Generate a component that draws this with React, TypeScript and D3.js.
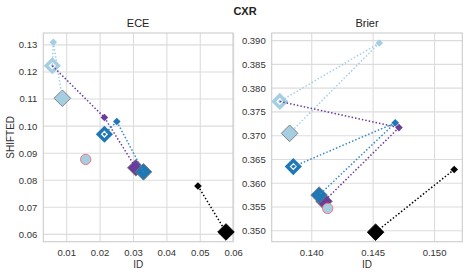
import React from 'react';
import * as d3 from 'd3';

// point keys shared by both panels
const keys = ['lbSmall', 'lbHollow', 'lbBig', 'purpleSmall', 'purpleBig', 'blueSmall', 'blueHollow', 'blueBig', 'blackSmall', 'blackBig', 'circle'];

const eceX = [0.0060, 0.0057, 0.0087, 0.0213, 0.0307, 0.0250, 0.0213, 0.0330, 0.0493, 0.0577, 0.0157];
const eceY = [0.1310, 0.1223, 0.1103, 0.1032, 0.0846, 0.1017, 0.0970, 0.0831, 0.0779, 0.0609, 0.0877];

const brierX = [0.1455, 0.1374, 0.1382, 0.1471, 0.1410, 0.1468, 0.1385, 0.1406, 0.1516, 0.1452, 0.1413];
const brierY = [0.3895, 0.3772, 0.3705, 0.3717, 0.3562, 0.3727, 0.3635, 0.3575, 0.3629, 0.3497, 0.3547];

const links: [string, string][] = [
  ['lbSmall', 'lbHollow'],
  ['lbSmall', 'lbBig'],
  ['lbHollow', 'purpleSmall'],
  ['purpleSmall', 'purpleBig'],
  ['blueSmall', 'blueHollow'],
  ['blueSmall', 'blueBig'],
  ['blackSmall', 'blackBig'],
];

const eceXTicks = [0.01, 0.02, 0.03, 0.04, 0.05, 0.06];
const eceYTicks = [0.06, 0.07, 0.08, 0.09, 0.10, 0.11, 0.12, 0.13];
const brierXTicks = [0.140, 0.145, 0.150];
const brierYTicks = [0.350, 0.355, 0.360, 0.365, 0.370, 0.375, 0.380, 0.385, 0.390];

const colors: Record<string, string> = {
  lb: '#a6cee3',
  purple: '#6a3d9a',
  blue: '#1f78b4',
  black: '#000000',
};

const styleOf = (k: string) => {
  if (k === 'circle') return { kind: 'circle', color: colors.lb };
  const m = k.match(/^(lb|purple|blue|black)(Small|Hollow|Big)$/)!;
  return { kind: m[2].toLowerCase(), color: colors[m[1]] };
};

const font = "'Liberation Sans', Arial, sans-serif";
const diamond = (r: number) => `M0,${-r}L${r},0L0,${r}L${-r},0Z`;

// draw order: big markers, lines, small markers
const bigOrder = ['lbHollow', 'lbBig', 'blueHollow', 'purpleBig', 'blueBig', 'blackBig'];
const smallOrder = ['lbSmall', 'purpleSmall', 'blueSmall', 'blackSmall'];

interface PanelProps {
  title: string;
  xs: number[];
  ys: number[];
  xDomain: [number, number];
  yDomain: [number, number];
  xTicks: number[];
  yTicks: number[];
  xFmt: string;
  yFmt: string;
  left: number;
  right: number;
  showYLabel: boolean;
}

const Panel: React.FC<PanelProps> = ({ title, xs, ys, xDomain, yDomain, xTicks, yTicks, xFmt, yFmt, left, right, showYLabel }) => {
  const top = 33;
  const bottom = 241.7;
  const x = d3.scaleLinear().domain(xDomain).range([left, right]);
  const y = d3.scaleLinear().domain(yDomain).range([bottom, top]);
  const pos = (k: string) => {
    const i = keys.indexOf(k);
    return [x(xs[i]), y(ys[i])];
  };
  const fx = d3.format(xFmt);
  const fy = d3.format(yFmt);

  const marker = (k: string) => {
    const [px, py] = pos(k);
    const s = styleOf(k);
    if (s.kind === 'circle') {
      return <circle key={k} cx={px} cy={py} r={5.2} fill={s.color} stroke="#f07878" strokeWidth={1} />;
    }
    if (s.kind === 'small') {
      return <path key={k} d={diamond(3.8)} transform={`translate(${px},${py})`} fill={s.color} />;
    }
    if (s.kind === 'hollow') {
      return (
        <g key={k} transform={`translate(${px},${py})`}>
          <path d={diamond(8.6)} fill={s.color} />
          <path d={diamond(2.8)} fill={s.color} stroke="#ffffff" strokeWidth={1.2} />
        </g>
      );
    }
    return (
      <path key={k} d={diamond(8.3)} transform={`translate(${px},${py})`} fill={s.color}
        stroke={k === 'blackBig' ? '#000' : '#777777'} strokeWidth={0.9} />
    );
  };

  return (
    <g>
      {xTicks.map(t => (
        <line key={'gx' + t} x1={x(t)} x2={x(t)} y1={top} y2={bottom} stroke="#dcdcdc" strokeWidth={1.1} />
      ))}
      {yTicks.map(t => (
        <line key={'gy' + t} x1={left} x2={right} y1={y(t)} y2={y(t)} stroke="#dcdcdc" strokeWidth={1.1} />
      ))}
      <rect x={left} y={top} width={right - left} height={bottom - top} fill="none" stroke="#cccccc" strokeWidth={1.1} />
      {xTicks.map(t => (
        <text key={'tx' + t} x={x(t)} y={256} textAnchor="middle" fontSize={9.5} fill="#333" fontFamily={font}>{fx(t)}</text>
      ))}
      {yTicks.map(t => (
        <text key={'ty' + t} x={left - 6} y={y(t) + 3.4} textAnchor="end" fontSize={9.5} fill="#333" fontFamily={font}>{fy(t)}</text>
      ))}
      <text x={(left + right) / 2} y={27} textAnchor="middle" fontSize={11} fill="#222" fontFamily={font}>{title}</text>
      <text x={(left + right) / 2} y={268} textAnchor="middle" fontSize={10} fill="#333" fontFamily={font}>ID</text>
      {showYLabel && (
        <text transform={`translate(13.5,${(top + bottom) / 2}) rotate(-90)`} textAnchor="middle" fontSize={10} fill="#333" fontFamily={font}>SHIFTED</text>
      )}
      {bigOrder.map(marker)}
      {links.map(([a, b]) => {
        const [x1, y1] = pos(a);
        const [x2, y2] = pos(b);
        const c = styleOf(b === 'purpleSmall' ? 'purpleSmall' : a).color;
        return <line key={a + b} x1={x1} y1={y1} x2={x2} y2={y2} stroke={c === colors.blue ? '#3589c8' : c}
          strokeWidth={1.5} strokeDasharray="1.5,2" />;
      })}
      {marker('circle')}
      {smallOrder.map(marker)}
    </g>
  );
};

export default function App() {
  return (
    <svg width={469} height={276} style={{ position: 'absolute', left: 0, top: 0, background: '#fff' }}>
      <text x={245} y={15} textAnchor="middle" fontSize={11} fontWeight="bold" fill="#222" fontFamily={font}>CXR</text>
      <Panel title="ECE" xs={eceX} ys={eceY} xDomain={[0.003, 0.0598]} yDomain={[0.0573, 0.1344]}
        xTicks={eceXTicks} yTicks={eceYTicks} xFmt=".2f" yFmt=".2f" left={43.3} right={233} showYLabel={true} />
      <Panel title="Brier" xs={brierX} ys={brierY} xDomain={[0.13674, 0.15226]} yDomain={[0.3477, 0.3916]}
        xTicks={brierXTicks} yTicks={brierYTicks} xFmt=".3f" yFmt=".3f" left={271.7} right={462.3} showYLabel={false} />
    </svg>
  );
}
